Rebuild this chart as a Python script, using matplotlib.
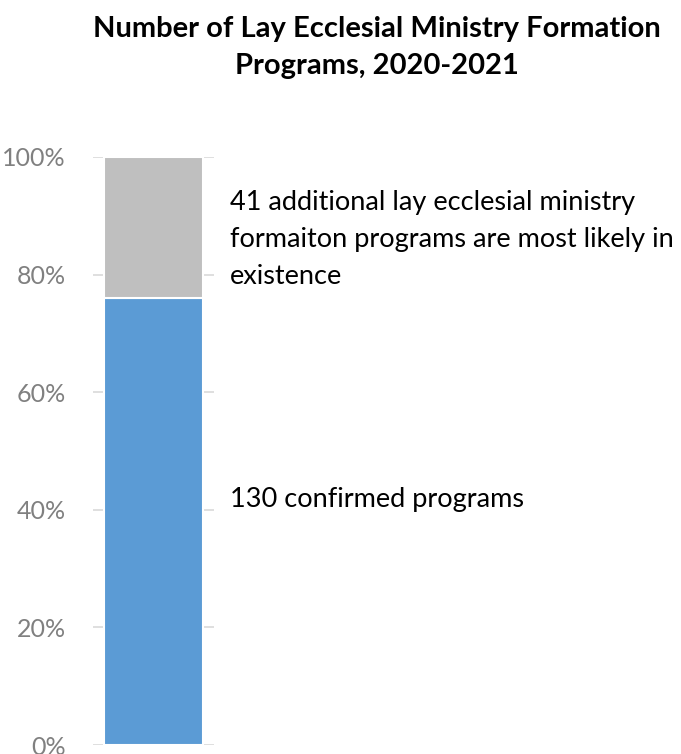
import matplotlib.pyplot as plt
from matplotlib.ticker import PercentFormatter

# Data
segments = ["Confirmed", "Additional (likely)"]
counts = [130, 41]
colors = ["#5B9BD5", "#BFBFBF"]
labels = [
    "130 confirmed programs",
    "41 additional lay ecclesial ministry\nformaiton programs are most likely in\nexistence",
]
title = "Number of Lay Ecclesial Ministry Formation\nPrograms, 2020-2021"

plt.rcParams["font.family"] = ["Lato", "DejaVu Sans"]

total = sum(counts)
shares = [c / total for c in counts]

fig = plt.figure(figsize=(6.81, 7.54), dpi=100)
ax = fig.add_axes([0.1366, 0.0119, 0.1777, 0.78])

bottom = 0
for share, col in zip(shares, colors):
    ax.bar(0, share, width=0.82, bottom=bottom, color=col,
           edgecolor="white", linewidth=1.5, zorder=3)
    bottom += share

ax.set_xlim(-0.5, 0.5)
ax.set_ylim(0, 1.0)
ax.set_yticks([0, 0.2, 0.4, 0.6, 0.8, 1.0])
ax.yaxis.set_major_formatter(PercentFormatter(1.0, decimals=0))
ax.set_xticks([])
ax.grid(axis="y", color="#D9D9D9", linewidth=1.2, zorder=0)
ax.tick_params(axis="y", length=0, pad=19.5, labelsize=18, labelcolor="#808080")
for s in ax.spines.values():
    s.set_visible(False)

# segment annotations, placed right of the bar
label_y = [0.417, 0.86]
for y, txt in zip(label_y, labels):
    ax.text(1.13, y, txt, transform=ax.get_yaxis_transform(), ha="left",
            va="center", fontsize=19.5, linespacing=1.6, clip_on=False)

fig.text(0.553, 0.937, title, ha="center", va="center", fontsize=21,
         fontweight="bold", linespacing=1.5)

fig.savefig("out.png", dpi=100)
